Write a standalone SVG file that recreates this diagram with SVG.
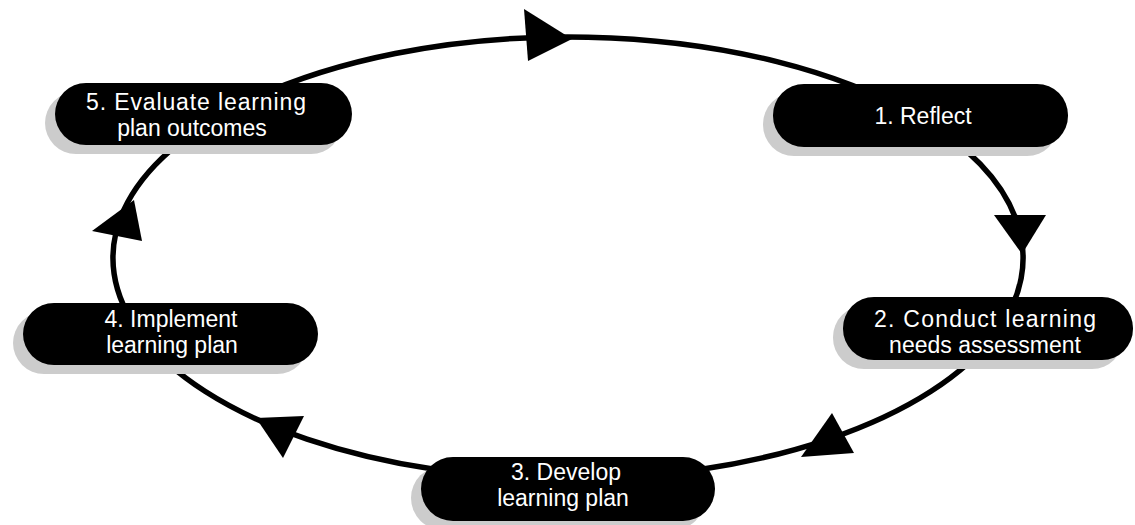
<svg xmlns="http://www.w3.org/2000/svg" width="1135" height="525" viewBox="0 0 1135 525">
<style>
.conn{fill:none;stroke:#000;stroke-width:5.5}
.head{fill:#000}
.shadow{fill:#cccccc}
.pill{fill:#000}
.lbl{fill:#fff;font-family:"Liberation Sans",Arial,sans-serif;font-size:23px;text-anchor:middle}
</style>
<rect width="1135" height="525" fill="#fff"/>
<g id="connectors">
<path class="conn" d="M246.3,101.7 A455,221 0 0 1 916.6,115.9"/>
<path class="conn" d="M916.6,115.9 A455,221 0 0 1 995.6,333.6"/>
<path class="conn" d="M995.6,333.6 A455,221 0 0 1 568,479"/>
<path class="conn" d="M568,479 A455,221 0 0 1 140.4,333.6"/>
<path class="conn" d="M140.4,333.6 A455,221 0 0 1 246.3,101.7"/>
<polygon class="head" points="524,9 572,39 528,61"/>
<polygon class="head" points="994,215 1046,215 1022,254"/>
<polygon class="head" points="832,413 854,453 801,457"/>
<polygon class="head" points="256,418 304,416 283,458"/>
<polygon class="head" points="92,231 134,200 142,241"/>
</g>
<g id="node5">
<rect class="shadow" x="45" y="92" width="297" height="62" rx="31"/>
<rect class="pill" x="55" y="83" width="297" height="62" rx="31"/>
<text class="lbl" x="196" y="110" textLength="220" lengthAdjust="spacing">5. Evaluate learning</text>
<text class="lbl" x="192" y="136">plan outcomes</text>
</g>
<g id="node1">
<rect class="shadow" x="763" y="93" width="295" height="63" rx="31"/>
<rect class="pill" x="773" y="84" width="295" height="63" rx="31"/>
<text class="lbl" x="923" y="124">1. Reflect</text>
</g>
<g id="node2">
<rect class="shadow" x="833" y="306" width="290" height="63" rx="31"/>
<rect class="pill" x="843" y="297" width="290" height="63" rx="31"/>
<text class="lbl" x="985" y="327" textLength="222" lengthAdjust="spacing">2. Conduct learning</text>
<text class="lbl" x="985" y="353">needs assessment</text>
</g>
<g id="node4">
<rect class="shadow" x="13" y="312" width="295" height="62" rx="31"/>
<rect class="pill" x="23" y="303" width="295" height="62" rx="31"/>
<text class="lbl" x="171" y="327">4. Implement</text>
<text class="lbl" x="172" y="353">learning plan</text>
</g>
<g id="node3">
<rect class="shadow" x="411" y="466" width="294" height="64" rx="32"/>
<rect class="pill" x="421" y="457" width="294" height="64" rx="32"/>
<text class="lbl" x="566" y="480">3. Develop</text>
<text class="lbl" x="563" y="506">learning plan</text>
</g>
</svg>
